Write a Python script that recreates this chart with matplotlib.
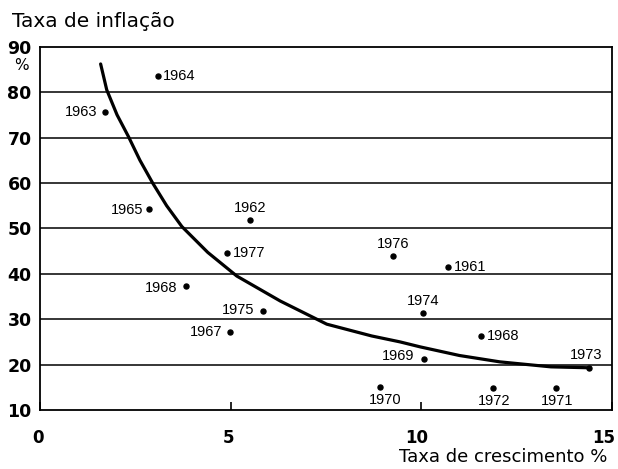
import matplotlib
matplotlib.use("Agg")
import matplotlib.pyplot as plt
from matplotlib.transforms import ScaledTranslation

# Data
years = ["1964", "1963", "1965", "1962", "1977", "1968", "1975", "1967",
         "1976", "1961", "1974", "1968", "1969", "1970", "1972", "1971", "1973"]
growth = [3.09, 1.70, 2.87, 5.51, 4.90, 3.83, 5.86, 4.98,
          9.27, 10.69, 10.05, 11.57, 10.07, 8.92, 11.87, 13.53, 14.4]
inflation = [83.5, 75.6, 54.3, 51.8, 44.5, 37.3, 31.9, 27.2,
             43.9, 41.4, 31.4, 26.3, 21.2, 15.1, 14.8, 14.8, 19.3]

curve_x = [1.59, 1.75, 2.02, 2.32, 2.62, 2.96, 3.32, 3.72, 4.40, 5.16, 6.30, 7.52,
           8.70, 9.44, 9.97, 11.0, 12.06, 13.4, 14.4]
curve_y = [86.2, 80.5, 75.0, 70.2, 65.0, 59.9, 55.0, 50.4, 44.7, 39.5, 34.0, 28.9,
           26.3, 25.0, 23.9, 22.0, 20.6, 19.5, 19.3]

xticks = [0, 5, 10, 15]
yticks = [10, 20, 30, 40, 50, 60, 70, 80, 90]

# label offsets in pixels and alignment
label_pos = [
    (5, 0, "left", "center"),
    (-7, 0, "right", "center"),
    (-6, -1, "right", "center"),
    (0, 5, "center", "bottom"),
    (6, 0, "left", "center"),
    (-9, -2, "right", "center"),
    (-9, 1, "right", "center"),
    (-8, 0, "right", "center"),
    (0, 5, "center", "bottom"),
    (6, 0, "left", "center"),
    (0, 5, "center", "bottom"),
    (6, 0, "left", "center"),
    (-10, 3, "right", "center"),
    (5, -6, "center", "top"),
    (1, -6, "center", "top"),
    (1, -6, "center", "top"),
    (-3, 6, "center", "bottom"),
]

fig = plt.figure(figsize=(6.18, 4.69), dpi=100)
ax = fig.add_axes([40 / 618, (469 - 410) / 469, (612 - 40) / 618, (410 - 46.7) / 469])

ax.set_xlim(0, 15)
ax.set_ylim(10, 90)

for y in yticks[1:-1]:
    ax.axhline(y, color="black", lw=1.1, zorder=1)

ax.plot(curve_x, curve_y, color="black", lw=2.3, solid_capstyle="round",
        solid_joinstyle="round", zorder=3)
ax.plot(growth, inflation, "o", color="black", ms=3.6, zorder=4)

for yr, gx, iy, (dx, dy, ha, va) in zip(years, growth, inflation, label_pos):
    ax.annotate(yr, (gx, iy), xytext=(dx, dy), textcoords="offset pixels",
                ha=ha, va=va, fontsize=10.5, family="Liberation Sans")

for s in ax.spines.values():
    s.set_color("black")
    s.set_linewidth(1.3)

ax.set_xticks(xticks)
ax.set_xticklabels([str(t) for t in xticks], fontsize=12, family="DejaVu Sans")
ax.tick_params(axis="x", direction="in", length=6, width=1.2, pad=14)
ax.set_yticks(yticks)
ax.set_yticklabels([str(t) for t in yticks], fontsize=12.5, family="DejaVu Sans",
                   fontweight="bold")
ax.tick_params(axis="y", length=0, pad=6)
shifts = [-2, -2, -5, -8]
for lbl, sh in zip(ax.get_xticklabels(), shifts):
    lbl.set_fontweight("bold")
    lbl.set_transform(lbl.get_transform() + ScaledTranslation(sh / 100, 0, fig.dpi_scale_trans))

fig.text(12 / 618, 1 - 27 / 469, "Taxa de inflação", fontsize=14.5,
         family="DejaVu Sans", ha="left", va="baseline")
fig.text(21 / 618, 1 - 66 / 469, "%", fontsize=11, family="DejaVu Sans",
         ha="center", va="center")
fig.text(607 / 618, 1 - 462 / 469, "Taxa de crescimento %", fontsize=13,
         family="DejaVu Sans", ha="right", va="baseline")

fig.savefig("out.png", dpi=100)
